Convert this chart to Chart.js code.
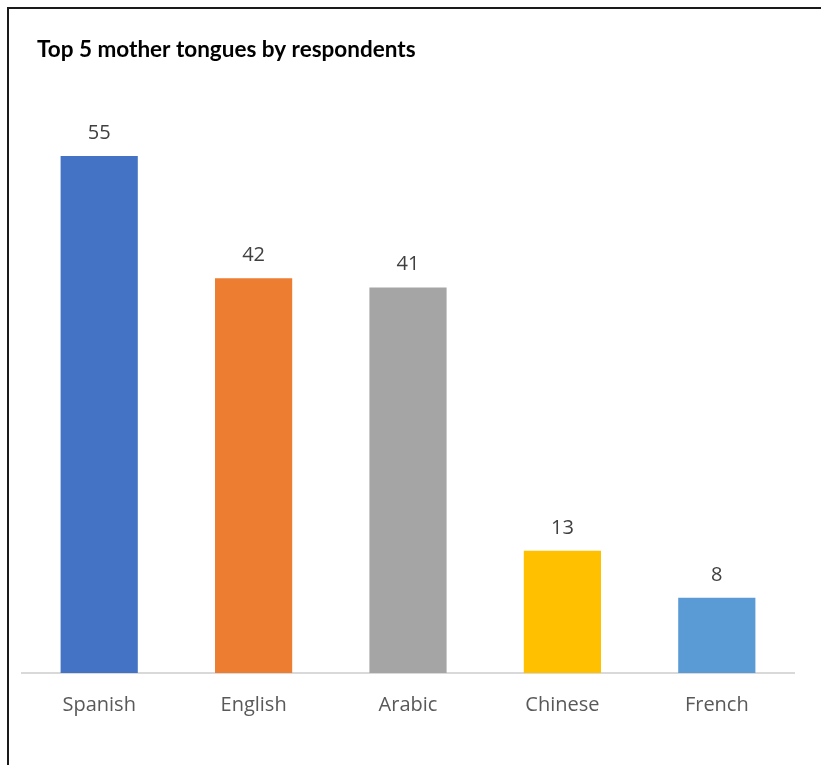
<!DOCTYPE html>
<html>
<head>
<meta charset="utf-8">
<script src="https://cdn.jsdelivr.net/npm/chart.js@4.4.0/dist/chart.umd.min.js"></script>
<style>
  html, body { margin: 0; padding: 0; background: #fff; overflow: hidden; }
  #wrap { position: relative; width: 821px; height: 765px; }
  #frame {
    position: absolute; left: 7px; top: 7px; width: 900px; height: 900px;
    border-left: 2px solid #1a1a1a; border-top: 2px solid #1a1a1a;
    pointer-events: none;
  }
</style>
</head>
<body>
<div id="wrap">
  <canvas id="chart" width="821" height="765"></canvas>
  <div id="frame"></div>
</div>
<script>
// chart data
const languages = ['Spanish', 'English', 'Arabic', 'Chinese', 'French'];
const respondents = [55, 42, 41, 13, 8];
const barColors = ['#4472C4', '#ED7D31', '#A5A5A5', '#FFC000', '#5B9BD5'];
const chartTitle = 'Top 5 mother tongues by respondents';

// title + value labels drawn on the canvas
const labelPlugin = {
    id: 'labelPlugin',
    afterDatasetsDraw(chart) {
        const ctx = chart.ctx;
        ctx.save();
        ctx.fillStyle = '#000';
        ctx.font = 'bold 22.5px Lato';
        ctx.textBaseline = 'middle';
        ctx.textAlign = 'left';
        ctx.fillText(chartTitle, 37, 50);

        ctx.fillStyle = '#404040';
        ctx.font = '20px "Open Sans"';
        ctx.textAlign = 'center';
        const meta = chart.getDatasetMeta(0);
        meta.data.forEach((bar, i) => {
            ctx.fillText(respondents[i], bar.x, bar.y - 23);
        });
        ctx.restore();
    }
};

const chart = new Chart(document.getElementById('chart'), {
    type: 'bar',
    data: {
        labels: languages,
        datasets: [{
            data: respondents,
            backgroundColor: barColors,
            barPercentage: 0.5,
            categoryPercentage: 1.0
        }]
    },
    options: {
        responsive: false,
        animation: false,
        layout: { padding: { top: 109, left: 22, right: 27, bottom: 36 } },
        plugins: {
            legend: { display: false },
            tooltip: { enabled: false }
        },
        scales: {
            x: {
                grid: { display: false },
                border: { display: true, color: '#d9d9d9', width: 2 },
                ticks: { color: '#595959', font: { family: 'Open Sans', size: 20 }, padding: 12 }
            },
            y: {
                display: false,
                min: 0,
                max: 60
            }
        }
    },
    plugins: [labelPlugin]
});
</script>
</body>
</html>
